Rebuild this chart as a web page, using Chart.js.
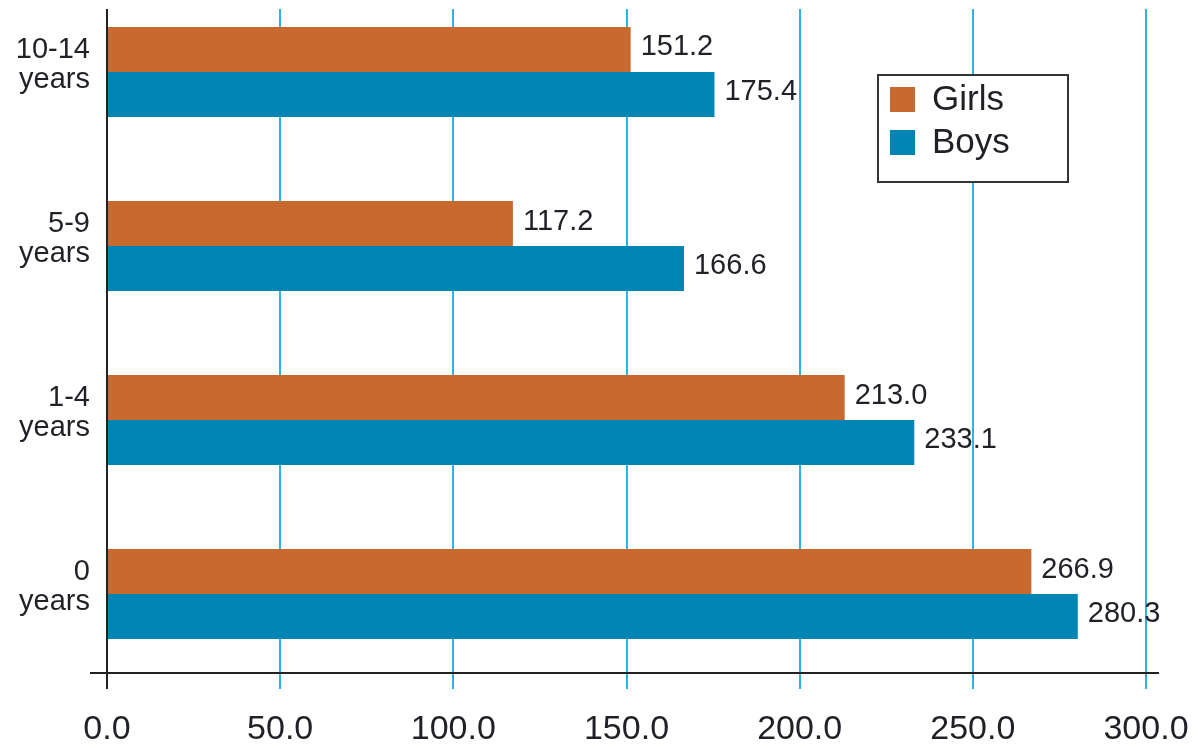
<!DOCTYPE html>
<html>
<head>
<meta charset="utf-8">
<title>Girls and Boys by age group</title>
<script src="https://cdn.jsdelivr.net/npm/chart.js@4.4.1/dist/chart.umd.min.js"></script>
<style>
  html, body { margin: 0; padding: 0; background: #fff; }
  #chart { display: block; }
</style>
</head>
<body>
<canvas id="chart" width="1199" height="744"></canvas>
<script>
// Age groups, top to bottom
const ageGroups = [['10-14', 'years'], ['5-9', 'years'], ['1-4', 'years'], ['0', 'years']];
const girlsValues = [151.2, 117.2, 213.0, 266.9];
const boysValues = [175.4, 166.6, 233.1, 280.3];
const xTicks = [0, 50, 100, 150, 200, 250, 300];

const GIRLS_COLOR = '#c8692f';
const BOYS_COLOR = '#0085b5';
const GRID_BLUE = '#29b5ea';
const TEXT_COLOR = '#231f26';
const FONT = '"Liberation Sans", Arial, Helvetica, sans-serif';

// value labels at the end of each bar
const barValueLabels = {
    id: 'barValueLabels',
    afterDatasetsDraw(chart) {
        const ctx = chart.ctx;
        ctx.save();
        ctx.font = '29px ' + FONT;
        ctx.fillStyle = TEXT_COLOR;
        ctx.textAlign = 'left';
        ctx.textBaseline = 'middle';
        chart.data.datasets.forEach((ds, i) => {
            chart.getDatasetMeta(i).data.forEach((bar, j) => {
                ctx.fillText(ds.data[j].x.toFixed(1), bar.x + 10, bar.y - 2);
            });
        });
        ctx.restore();
    }
};

// bottom axis line, running a bit past both ends of the plot
const bottomAxisLine = {
    id: 'bottomAxisLine',
    afterDraw(chart) {
        const { ctx, chartArea } = chart;
        ctx.save();
        ctx.strokeStyle = '#222';
        ctx.lineWidth = 2;
        ctx.beginPath();
        ctx.moveTo(chartArea.left - 17, chartArea.bottom);
        ctx.lineTo(chartArea.right + 13, chartArea.bottom);
        ctx.stroke();
        ctx.restore();
    }
};

// boxed legend inside the plot
const boxedLegend = {
    id: 'boxedLegend',
    afterDraw(chart, args, opts) {
        const ctx = chart.ctx;
        ctx.save();
        ctx.fillStyle = '#fff';
        ctx.fillRect(opts.x, opts.y, opts.width, opts.height);
        ctx.strokeStyle = '#333';
        ctx.lineWidth = 2;
        ctx.strokeRect(opts.x, opts.y, opts.width, opts.height);
        ctx.font = '35px ' + FONT;
        ctx.textBaseline = 'middle';
        chart.data.datasets.forEach((ds, i) => {
            const top = opts.y + 12 + i * 43;
            ctx.fillStyle = ds.backgroundColor;
            ctx.fillRect(opts.x + 12, top, 25, 25);
            ctx.fillStyle = TEXT_COLOR;
            ctx.fillText(ds.label, opts.x + 54, top + 13);
        });
        ctx.restore();
    }
};

new Chart(document.getElementById('chart'), {
    type: 'bar',
    data: {
        datasets: [
            {
                label: 'Girls',
                data: girlsValues.map((v, i) => ({ x: v, y: i })),
                backgroundColor: GIRLS_COLOR
            },
            {
                label: 'Boys',
                data: boysValues.map((v, i) => ({ x: v, y: i })),
                backgroundColor: BOYS_COLOR
            }
        ]
    },
    options: {
        indexAxis: 'y',
        responsive: false,
        animation: false,
        layout: { padding: { top: 9, right: 53, left: 0, bottom: 0 } },
        datasets: {
            bar: { categoryPercentage: 0.517, barPercentage: 1.0 }
        },
        plugins: {
            legend: { display: false },
            tooltip: { enabled: false },
            boxedLegend: { x: 878, y: 75, width: 190, height: 107 }
        },
        scales: {
            x: {
                type: 'linear',
                position: 'bottom',
                min: 0,
                max: 300,
                bounds: 'data',
                afterBuildTicks: s => { s.ticks = xTicks.map(v => ({ value: v })); },
                afterFit: s => { s.height = 71; s.paddingLeft = 0; s.paddingRight = 0; },
                ticks: {
                    callback: v => Number(v).toFixed(1),
                    color: TEXT_COLOR,
                    font: { family: FONT, size: 34 },
                    padding: 20,
                    maxRotation: 0
                },
                grid: {
                    color: c => (c.tick && c.tick.value === 0 ? '#222' : GRID_BLUE),
                    lineWidth: 2,
                    tickLength: 16,
                    drawTicks: true
                },
                border: { display: false }
            },
            y: {
                type: 'linear',
                reverse: true,
                offset: false,
                bounds: 'data',
                grace: 0,
                min: -0.362,
                max: 3.454,
                afterBuildTicks: s => { s.ticks = ageGroups.map((_, i) => ({ value: i })); },
                afterFit: s => { s.width = 107; s.paddingTop = 0; s.paddingBottom = 0; },
                ticks: {
                    callback: v => ageGroups[v],
                    color: TEXT_COLOR,
                    font: { family: FONT, size: 29, lineHeight: 1.03 },
                    padding: 17,
                    labelOffset: -7,
                    autoSkip: false,
                    includeBounds: false
                },
                grid: { display: false, drawTicks: false },
                border: { display: false }
            }
        }
    },
    plugins: [barValueLabels, bottomAxisLine, boxedLegend]
});
</script>
</body>
</html>
